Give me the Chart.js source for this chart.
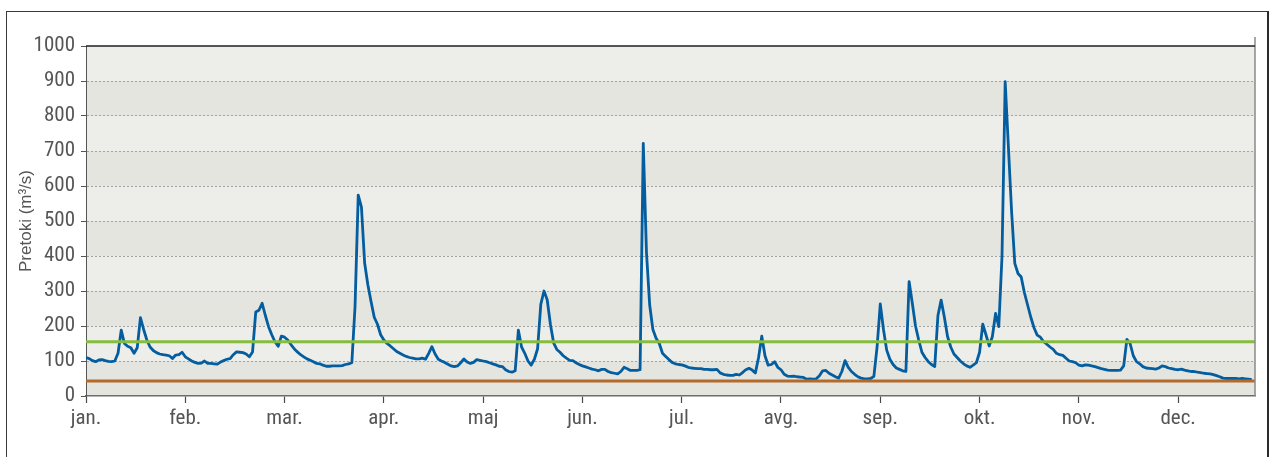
<!DOCTYPE html>
<html>
<head>
<meta charset="utf-8">
<script src="https://cdn.jsdelivr.net/npm/chart.js@4.4.1/dist/chart.umd.min.js"></script>
<style>
  html, body { margin: 0; padding: 0; background: #fff; }
  #wrap { position: relative; width: 1271px; height: 457px; overflow: hidden; }
  #wrap canvas { position: absolute; left: 0; top: 0; }
  #frame {
    position: absolute; left: 6px; top: 11px; width: 1263px; height: 480px;
    box-sizing: border-box; border: 1px solid #3a3a3a; border-right: 2px solid #2a2a2a;
    pointer-events: none;
  }
</style>
</head>
<body>
<div id="wrap">
  <canvas id="flowChart" width="1271" height="457"></canvas>
  <div id="frame"></div>
</div>
<script>
// Month tick labels along the time axis
const monthLabels = ['jan.', 'feb.', 'mar.', 'apr.', 'maj', 'jun.', 'jul.', 'avg.', 'sep.', 'okt.', 'nov.', 'dec.'];

// Daily discharge (m3/s), one value per day of the year
const dailyFlow = [
  110, 107, 101, 98, 103, 104, 101, 99, 98, 100,
  122, 188, 150, 142, 138, 122, 138, 224, 190, 160,
  140, 130, 124, 120, 118, 117, 115, 107, 117, 118,
  125, 112, 106, 100, 96, 93, 94, 100, 93, 93,
  92, 91, 97, 101, 105, 107, 118, 126, 125, 124,
  120, 112, 126, 240, 245, 265, 230, 198, 175, 155,
  142, 171, 168, 160, 147, 135, 126, 118, 112, 106,
  102, 98, 93, 92, 88, 85, 85, 86, 86, 86,
  87, 90, 92, 95, 255, 574, 540, 380, 318, 270,
  225, 205, 175, 160, 150, 143, 135, 127, 122, 117,
  113, 110, 108, 106, 106, 108, 105, 122, 141, 120,
  105, 100, 96, 91, 86, 84, 86, 95, 106, 97,
  93, 96, 104, 102, 100, 98, 95, 92, 89, 85,
  84, 75, 70, 68, 72, 188, 140, 122, 100, 88,
  105, 135, 262, 300, 275, 205, 152, 133, 125, 115,
  108, 102, 101, 95, 90, 86, 83, 80, 77, 75,
  72, 76, 76, 70, 67, 65, 63, 70, 82, 78,
  73, 73, 73, 75, 722, 410, 260, 190, 165, 150,
  122, 113, 104, 96, 92, 90, 89, 86, 82, 80,
  79, 78, 78, 76, 76, 75, 75, 76, 66, 62,
  60, 59, 59, 62, 60, 67, 75, 79, 74, 66,
  110, 171, 115, 88, 90, 98, 82, 75, 62, 57,
  56, 57, 55, 54, 53, 48, 49, 48, 49, 58,
  72, 73, 65, 60, 55, 51, 70, 101, 82, 70,
  62, 55, 51, 49, 49, 50, 56, 140, 263, 190,
  131, 105, 90, 80, 76, 72, 70, 327, 265, 200,
  160, 125, 110, 98, 90, 84, 230, 274, 226, 170,
  140, 120, 110, 100, 92, 86, 82, 88, 95, 125,
  205, 175, 143, 170, 236, 198, 398, 898, 712, 527,
  379, 350, 340, 295, 260, 225, 195, 174, 168, 155,
  148, 140, 133, 122, 118, 116, 108, 100, 98, 95,
  88, 86, 89, 88, 86, 84, 81, 78, 76, 74,
  73, 73, 73, 74, 86, 162, 150, 115, 98, 92,
  84, 80, 79, 78, 77, 80, 86, 84, 80, 78,
  76, 75, 77, 74, 72, 70, 70, 68, 67, 65,
  64, 63, 61, 58, 55, 51, 50, 50, 50, 50,
  49, 50, 49, 48, 47
];

// Reference discharge levels (m3/s)
const referenceHigh = 155;
const referenceLow = 43;

const yAxisTitle = 'Pretoki (m³/s)';

const tickFont = { family: "'Liberation Sans Narrow', 'Arial Narrow', 'Roboto Condensed', 'Liberation Sans', sans-serif", size: 21 };
const titleFont = { family: "'Liberation Sans', Arial, sans-serif", size: 17 };
const textColor = '#555555';

const dayCount = dailyFlow.length;

// Alternating horizontal bands behind the grid, plus the top and right frame of the plot
const plotDecor = {
  id: 'plotDecor',
  beforeDraw(chart) {
    const { ctx, chartArea: a, scales: { y } } = chart;
    ctx.save();
    const ticks = y.ticks;
    for (let i = 0; i < ticks.length - 1; i++) {
      const y0 = y.getPixelForValue(ticks[i].value);
      const y1 = y.getPixelForValue(ticks[i + 1].value);
      ctx.fillStyle = i % 2 === 0 ? '#e5e5e0' : '#ededea';
      ctx.fillRect(a.left, y1, a.right - a.left, y0 - y1);
    }
    ctx.restore();
  },
  afterDraw(chart) {
    const { ctx, chartArea: a } = chart;
    ctx.save();
    ctx.strokeStyle = '#8a8a8a';
    ctx.lineWidth = 1.5;
    ctx.beginPath();
    ctx.moveTo(a.right, a.top - 9);
    ctx.lineTo(a.right, a.bottom);
    ctx.stroke();
    ctx.strokeStyle = '#1e1e1e';
    ctx.lineWidth = 1.5;
    ctx.beginPath();
    ctx.moveTo(a.left, a.top);
    ctx.lineTo(a.right, a.top);
    ctx.stroke();
    ctx.restore();
  }
};

new Chart(document.getElementById('flowChart'), {
  type: 'line',
  data: {
    datasets: [
      {
        label: 'high',
        data: [{ x: 0, y: referenceHigh }, { x: dayCount, y: referenceHigh }],
        borderColor: '#86bc3f',
        borderWidth: 3,
        pointRadius: 0
      },
      {
        label: 'low',
        data: [{ x: 0, y: referenceLow }, { x: dayCount, y: referenceLow }],
        borderColor: '#b36b2c',
        borderWidth: 3,
        pointRadius: 0
      },
      {
        label: 'pretok',
        data: dailyFlow.map((v, i) => ({ x: i, y: v })),
        borderColor: '#035d9e',
        borderWidth: 2.8,
        borderJoinStyle: 'round',
        pointRadius: 0,
        tension: 0
      }
    ]
  },
  options: {
    responsive: false,
    animation: false,
    devicePixelRatio: 1,
    layout: { padding: { left: 0, top: 46, right: 16, bottom: 0 } },
    plugins: { legend: { display: false }, tooltip: { enabled: false } },
    scales: {
      x: {
        type: 'linear',
        min: 0,
        max: dayCount,
        afterBuildTicks: (s) => { s.ticks = monthLabels.map((_, i) => ({ value: i * 31 })); },
        afterFit: (s) => { s.height = 61; },
        ticks: {
          autoSkip: false,
          maxRotation: 0,
          padding: 3,
          font: tickFont,
          color: textColor,
          callback: (v, i) => monthLabels[i]
        },
        grid: { drawOnChartArea: false, tickLength: 7, tickColor: '#4a4a4a', tickWidth: 1.2 },
        border: { color: '#6d6d6d', width: 1.5 }
      },
      y: {
        min: 0,
        max: 1000,
        afterFit: (s) => { s.width = 86; },
        ticks: { stepSize: 100, padding: 6, font: tickFont, color: textColor, callback: (v) => String(v) },
        grid: {
          color: (c) => (c.tick && (c.tick.value === 0 || c.tick.value === 1000)) ? 'rgba(0,0,0,0)' : '#a3a3a3',
          lineWidth: 1,
          tickLength: 5,
          tickColor: '#555'
        },
        border: { color: '#555', width: 1, dash: [2, 2] },
        title: {
          display: true,
          text: yAxisTitle,
          font: titleFont,
          color: '#555',
          padding: { top: 16, bottom: 0 }
        }
      }
    }
  },
  plugins: [plotDecor]
});
</script>
</body>
</html>
